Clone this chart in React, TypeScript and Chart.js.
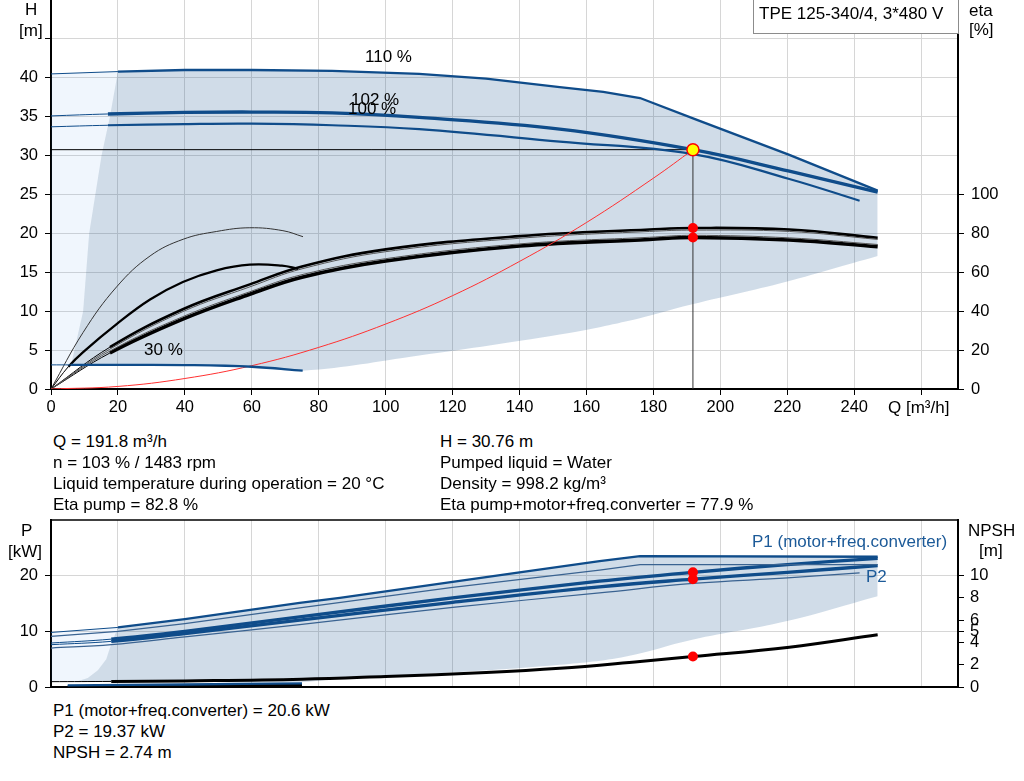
import React, { useEffect, useRef } from "react";
import { Chart, registerables } from "chart.js";
Chart.register(...registerables);

const FONT = 'Arial, "Liberation Sans", Helvetica, sans-serif';
const BLUE = "#0f4c8a";
const THIN_BLUE = "#3a6391";
const GRID = "#d6d6d6";
const FILL_DARK = "rgba(15,76,138,0.195)";
const FILL_LIGHT = "rgba(60,140,230,0.08)";

// ---- ticks ----
const qTicks = [0, 20, 40, 60, 80, 100, 120, 140, 160, 180, 200, 220, 240, 260];
const hTicks = [0, 5, 10, 15, 20, 25, 30, 35, 40, 45];
const etaTicks = [0, 20, 40, 60, 80, 100];
const pTicks = [0, 10, 20];
const npshTicks = [0, 2, 4, 5, 6, 8, 10];

// ---- duty point ----
const dutyQ = 191.8;
const dutyH = 30.76;
const dutyEtaPump = 82.8;
const dutyEtaTotal = 77.9;
const dutyP1 = 20.6;
const dutyP2 = 19.37;
const dutyNpsh = 2.74;

// ---- QH curves ----
const h110Q = [0, 20, 40, 60, 84, 110, 130, 152, 165, 176, 193, 220.6, 247];
const h110H = [40.5, 40.8, 41.0, 41.0, 40.9, 40.5, 39.9, 38.8, 38.2, 37.4, 34.6, 30.1, 25.5];
const h102Q = [0, 17, 40, 60, 84, 110, 152, 191.8, 220.6, 247];
const h102H = [35.1, 35.35, 35.55, 35.6, 35.5, 34.9, 33.4, 30.76, 28.0, 25.3];
const h100Q = [0, 17, 40, 60, 84, 110, 152, 191.8, 220.6, 241.6];
const h100H = [33.7, 33.9, 34.05, 34.1, 33.9, 33.4, 31.8, 30.2, 27.0, 24.2];
const h30Q = [0, 6, 20, 40, 60, 75.2];
const h30H = [3.1, 3.1, 3.1, 3.08, 2.86, 2.35];
// operating-range boundaries (H)
const hLeftQ = [6, 9.6, 11.4, 15.1, 17.6, 20];
const hLeftH = [3.1, 10, 20, 30, 35, 40.8];
const hLowQ = [75.2, 110, 152, 172, 191.6, 219.7, 247];
const hLowH = [2.35, 4.3, 7.0, 8.7, 10.9, 13.8, 17.1];
// system curve
const sysQ = [0, 20, 40, 60, 80, 100, 120, 140, 160, 180, 191.8];
const sysH = [0, 0.33, 1.35, 3.0, 5.35, 8.35, 12.0, 16.4, 21.4, 27.1, 30.76];

// ---- efficiency curves ----
const eta30pQ = [0, 9.6, 19.6, 29.6, 39.5, 49.5, 59.4, 69.3, 75.3];
const eta30p = [0, 29.1, 52.5, 68.4, 77.0, 81.0, 82.9, 81.4, 78.3];
const eta30tQ = [0, 5.2, 9.6, 19.7, 29.6, 39.4, 49.5, 59.4, 69, 73.8];
const eta30t = [0, 11.5, 19, 33.5, 46, 55, 61, 63.9, 63.4, 61.8];
const etaBundleQ = [0, 17.6, 39.4, 59.4, 75, 100, 140, 178.8, 191.8, 220.6, 247];
const etaPumpHi = [0, 21.5, 41, 53.8, 63, 71.8, 78.6, 82, 82.8, 82, 77.8];
const etaPumpLo = [0, 20.5, 39.8, 52.5, 61.8, 70.6, 77.5, 81.0, 81.7, 81.0, 76.9];
const etaTotHi = [0, 19.5, 37.2, 50, 58.8, 67, 74.6, 78, 79, 77.7, 74.3];
const etaTotLo = [0, 18.5, 35.9, 48.7, 57.5, 65.8, 73.5, 76.9, 77.9, 76.6, 73.2];

// ---- power curves ----
const p1_110Q = [0, 20, 40, 74.3, 86.3, 120, 140, 163.9, 176, 247];
const p1_110 = [9.8, 10.7, 12.2, 15.1, 16.0, 18.9, 20.6, 22.6, 23.5, 23.4];
const p2_110Q = [0, 20, 40, 74.3, 120, 163.9, 176, 247];
const p2_110 = [9.1, 10.0, 11.4, 14.2, 17.9, 21.0, 22.0, 22.0];
const p1_102Q = [0, 18, 40, 74.3, 120, 163.9, 191.8, 220, 247];
const p1_102 = [7.9, 8.6, 10.0, 12.6, 16.0, 19.0, 20.6, 22.0, 23.1];
const p2_102 = [7.6, 8.2, 9.6, 12.0, 15.2, 18.0, 19.37, 20.6, 21.8];
const p2_100Q = [0, 18, 40, 74.3, 120, 163.9, 191.8, 220, 241.6];
const p2_100 = [7.0, 7.6, 9.0, 11.2, 14.3, 16.9, 18.6, 19.6, 20.5];
const p30Q = [5, 40, 75];
const p30 = [0.3, 0.45, 0.65];
const pLeftQ = [7.7, 11, 14, 16.5, 17.6, 18.5, 20];
const pLeft = [1.0, 1.6, 3.0, 5.0, 7.0, 8.5, 10.7];
const pLowQ = [7.7, 40, 75, 88, 122, 152, 171.8, 191.6, 219.6, 247];
const pLow = [1.0, 0.9, 0.9, 1.6, 2.7, 4.0, 5.5, 8.5, 11.8, 16.3];
const pLightLowQ = [0];
const pLightLow = [1.0];

// ---- NPSH ----
const npshQ = [0, 18, 40, 75, 100, 130, 152, 176, 191.8, 220.6, 247];
const npsh = [0.48, 0.5, 0.55, 0.7, 0.95, 1.3, 1.68, 2.3, 2.74, 3.58, 4.7];
const npsh30Q = [5, 40, 75];
const npsh30 = [0.03, 0.08, 0.2];

type Pt = { x: number; y: number };
const zip = (q: number[], v: number[]): Pt[] => q.map((x, i) => ({ x, y: v[i] }));

const thinFirst = (w: number) => ({
  borderWidth: (ctx: any) => (ctx.p0DataIndex === 0 ? 1 : w),
});

const STRAIGHT = { cubicInterpolationMode: "default", tension: 0 };

function line(data: Pt[], color: string, width: number, extra: any = {}) {
  return {
    type: "line",
    data,
    borderColor: color,
    backgroundColor: color,
    borderWidth: width,
    pointRadius: 0,
    fill: false,
    cubicInterpolationMode: "default",
    tension: 0.4,
    order: 5,
    ...extra,
  };
}

function marker(pt: Pt, bg: string, border: string, r: number, axis?: string) {
  const d: any = {
    type: "line",
    data: [pt],
    showLine: false,
    pointRadius: r,
    pointBackgroundColor: bg,
    pointBorderColor: border,
    pointBorderWidth: border === bg ? 0 : 1.5,
    order: 0,
  };
  if (axis) d.yAxisID = axis;
  return d;
}

const fixedTicks = (vals: number[]) => (s: any) => {
  s.ticks = vals.map((v) => ({ value: v }));
};

const tickFont = { family: FONT, size: 16.5 };
const CLEAR = "rgba(0,0,0,0)";

function topConfig(): any {
  const ds: any[] = [];
  const add = (d: any) => {
    ds.push(d);
    return ds.length - 1;
  };
  // light region
  const lightLow = add(
    line([...zip(h30Q, h30H).slice(0, 1), ...zip(hLeftQ, hLeftH)], CLEAR, 0, { order: 30, ...STRAIGHT })
  );
  add(
    line(zip(h110Q, h110H).slice(0, 2), CLEAR, 0, {
      fill: lightLow,
      backgroundColor: FILL_LIGHT,
      order: 30,
      ...STRAIGHT,
    })
  );
  // dark region
  const darkLow = add(
    line([...zip(h30Q, h30H).slice(1), ...zip(hLowQ, hLowH).slice(1)], CLEAR, 0, { order: 20 })
  );
  add(
    line([...zip(hLeftQ, hLeftH), ...zip(h110Q, h110H).slice(2)], CLEAR, 0, {
      fill: darkLow,
      backgroundColor: FILL_DARK,
      order: 20,
      ...STRAIGHT,
    })
  );
  // QH curves
  add(line(zip(h110Q, h110H), BLUE, 2.3, { segment: thinFirst(2.3), ...STRAIGHT }));
  add(line(zip(h102Q, h102H), BLUE, 3.3, { segment: thinFirst(3.3) }));
  add(line(zip(h100Q, h100H), BLUE, 2.2, { segment: thinFirst(2.2) }));
  add(line(zip(h30Q, h30H), BLUE, 2.3, { segment: thinFirst(2.3) }));
  // system curve and duty lines
  add(line(zip(sysQ, sysH), "#ff3030", 1));
  add(line([{ x: 0, y: dutyH }, { x: dutyQ, y: dutyH }], "#000", 1, STRAIGHT));
  add(line([{ x: dutyQ, y: 0 }, { x: dutyQ, y: dutyH }], "#333", 1, STRAIGHT));
  // efficiency curves
  add(line(zip(eta30pQ, eta30p), "#333", 1, { yAxisID: "eta" }));
  add(line(zip(eta30tQ, eta30t), "#000", 2.3, { yAxisID: "eta", segment: thinFirst(2.3) }));
  add(line(zip(etaBundleQ, etaPumpLo), "#555", 1, { yAxisID: "eta" }));
  add(line(zip(etaBundleQ, etaTotHi), "#555", 1, { yAxisID: "eta" }));
  add(line(zip(etaBundleQ, etaPumpHi), "#000", 2.6, { yAxisID: "eta", segment: thinFirst(2.6) }));
  add(line(zip(etaBundleQ, etaTotLo), "#000", 3.6, { yAxisID: "eta", segment: thinFirst(3.6) }));
  // markers
  add(marker({ x: dutyQ, y: dutyEtaPump }, "#ff0000", "#ff0000", 5, "eta"));
  add(marker({ x: dutyQ, y: dutyEtaTotal }, "#ff0000", "#ff0000", 5, "eta"));
  add(marker({ x: dutyQ, y: dutyH }, "#ffff00", "#ff0000", 6));

  return {
    type: "line",
    data: { datasets: ds },
    options: {
      animation: false,
      responsive: false,
      maintainAspectRatio: false,
      events: [],
      layout: { padding: { top: 15 } },
      plugins: { legend: { display: false }, tooltip: { enabled: false } },
      scales: {
        x: {
          type: "linear",
          min: 0,
          max: 271,
          afterBuildTicks: fixedTicks(qTicks),
          afterFit: (s: any) => {
            s.height = 36;
            s.paddingLeft = 0;
            s.paddingRight = 0;
          },
          ticks: {
            autoSkip: false,
            maxRotation: 0,
            padding: 3,
            color: "#000",
            font: tickFont,
            callback: (v: any) => (v <= 240 ? String(v) : ""),
          },
          grid: { color: GRID, tickColor: "#000", tickLength: 6 },
          border: { color: "#000", width: 2 },
        },
        y: {
          type: "linear",
          position: "left",
          min: 0,
          max: 50,
          afterBuildTicks: fixedTicks(hTicks),
          afterFit: (s: any) => {
            s.width = 51;
            s.paddingTop = 0;
            s.paddingBottom = 0;
          },
          ticks: {
            padding: 7,
            color: "#000",
            font: tickFont,
            callback: (v: any) => (v <= 40 ? String(v) : ""),
          },
          grid: { color: GRID, tickColor: "#000", tickLength: 6 },
          border: { color: "#000", width: 2 },
        },
        eta: {
          type: "linear",
          position: "right",
          min: 0,
          max: 200,
          afterBuildTicks: fixedTicks(etaTicks),
          afterFit: (s: any) => {
            s.width = 66;
            s.paddingTop = 0;
            s.paddingBottom = 0;
          },
          ticks: { padding: 7, color: "#000", font: tickFont },
          grid: { drawOnChartArea: false, tickColor: "#000", tickLength: 6 },
          border: { color: "#000", width: 2 },
        },
      },
    },
  };
}

const topBorder = {
  id: "topBorder",
  afterDatasetsDraw(chart: any) {
    const { ctx, chartArea } = chart;
    ctx.save();
    ctx.strokeStyle = "#000";
    ctx.lineWidth = 1.5;
    ctx.beginPath();
    ctx.moveTo(chartArea.left, chartArea.top);
    ctx.lineTo(chartArea.right, chartArea.top);
    ctx.stroke();
    ctx.restore();
  },
};

function bottomConfig(): any {
  const ds: any[] = [];
  const add = (d: any) => {
    ds.push(d);
    return ds.length - 1;
  };
  const lightLow = add(
    line([...zip(pLightLowQ, pLightLow), ...zip(pLeftQ, pLeft)], CLEAR, 0, { order: 30, ...STRAIGHT })
  );
  add(
    line(zip(p1_110Q, p1_110).slice(0, 2), CLEAR, 0, {
      fill: lightLow,
      backgroundColor: FILL_LIGHT,
      order: 30,
      ...STRAIGHT,
    })
  );
  const darkLow = add(line(zip(pLowQ, pLow), CLEAR, 0, { order: 20 }));
  add(
    line([...zip(pLeftQ, pLeft), ...zip(p1_110Q, p1_110).slice(2)], CLEAR, 0, {
      fill: darkLow,
      backgroundColor: FILL_DARK,
      order: 20,
      ...STRAIGHT,
    })
  );
  add(line(zip(p2_110Q, p2_110), THIN_BLUE, 1.2, STRAIGHT));
  add(line(zip(p2_100Q, p2_100), THIN_BLUE, 1.2));
  add(line(zip(p1_110Q, p1_110), BLUE, 2.3, { segment: thinFirst(2.3), ...STRAIGHT }));
  add(line(zip(p1_102Q, p1_102), BLUE, 3.3, { segment: thinFirst(3.3) }));
  add(line(zip(p1_102Q, p2_102), BLUE, 3.3, { segment: thinFirst(3.3) }));
  add(line(zip(p30Q, p30), BLUE, 2.3));
  add(line(zip(npsh30Q, npsh30), "#000", 3, { yAxisID: "npsh" }));
  add(line(zip(npshQ, npsh), "#000", 3, { yAxisID: "npsh", segment: thinFirst(3) }));
  add(marker({ x: dutyQ, y: dutyP1 }, "#ff0000", "#ff0000", 5));
  add(marker({ x: dutyQ, y: dutyP2 }, "#ff0000", "#ff0000", 5));
  add(marker({ x: dutyQ, y: dutyNpsh }, "#ff0000", "#ff0000", 5, "npsh"));

  return {
    type: "line",
    data: { datasets: ds },
    plugins: [topBorder],
    options: {
      animation: false,
      responsive: false,
      maintainAspectRatio: false,
      events: [],
      layout: { padding: { top: 15 } },
      plugins: { legend: { display: false }, tooltip: { enabled: false } },
      scales: {
        x: {
          type: "linear",
          min: 0,
          max: 271,
          afterBuildTicks: fixedTicks(qTicks),
          afterFit: (s: any) => {
            s.height = 13;
            s.paddingLeft = 0;
            s.paddingRight = 0;
          },
          ticks: { display: false },
          grid: { color: GRID, drawTicks: false },
          border: { color: "#000", width: 2 },
        },
        y: {
          type: "linear",
          position: "left",
          min: 0,
          max: 30,
          afterBuildTicks: fixedTicks(pTicks),
          afterFit: (s: any) => {
            s.width = 51;
            s.paddingTop = 0;
            s.paddingBottom = 0;
          },
          ticks: { padding: 7, color: "#000", font: tickFont },
          grid: { color: GRID, tickColor: "#000", tickLength: 6 },
          border: { color: "#000", width: 2 },
        },
        npsh: {
          type: "linear",
          position: "right",
          min: 0,
          max: 15,
          afterBuildTicks: fixedTicks(npshTicks),
          afterFit: (s: any) => {
            s.width = 66;
            s.paddingTop = 0;
            s.paddingBottom = 0;
          },
          ticks: { padding: 6, color: "#000", font: tickFont },
          grid: { drawOnChartArea: false, tickColor: "#000", tickLength: 6 },
          border: { color: "#000", width: 2 },
        },
      },
    },
  };
}

function T(props: { x: number; cy: number; children: any; color?: string }) {
  return (
    <div
      style={{
        position: "absolute",
        left: props.x,
        top: props.cy - 9.5,
        fontSize: 17,
        lineHeight: "19px",
        whiteSpace: "nowrap",
        color: props.color || "#000",
      }}
    >
      {props.children}
    </div>
  );
}

const leftInfo = [
  "Q = 191.8 m³/h",
  "n = 103 % / 1483 rpm",
  "Liquid temperature during operation = 20 °C",
  "Eta pump = 82.8 %",
];
const rightInfo = [
  "H = 30.76 m",
  "Pumped liquid = Water",
  "Density = 998.2 kg/m³",
  "Eta pump+motor+freq.converter = 77.9 %",
];
const bottomInfo = ["P1 (motor+freq.converter) = 20.6 kW", "P2 = 19.37 kW", "NPSH = 2.74 m"];

export default function App() {
  const topRef = useRef<HTMLCanvasElement>(null);
  const botRef = useRef<HTMLCanvasElement>(null);
  useEffect(() => {
    Chart.defaults.font.family = FONT;
    const c1 = new Chart(topRef.current as HTMLCanvasElement, topConfig());
    const c2 = new Chart(botRef.current as HTMLCanvasElement, bottomConfig());
    return () => {
      c1.destroy();
      c2.destroy();
    };
  }, []);
  return (
    <div
      style={{
        position: "absolute",
        left: 0,
        top: 0,
        width: 1024,
        height: 781,
        background: "#fff",
        fontFamily: FONT,
        overflow: "hidden",
      }}
    >
      <canvas
        ref={topRef}
        width={1024}
        height={440}
        style={{ position: "absolute", left: 0, top: -15, width: 1024, height: 440 }}
      />
      <canvas
        ref={botRef}
        width={1024}
        height={195}
        style={{ position: "absolute", left: 0, top: 505, width: 1024, height: 195 }}
      />
      {/* top chart axis titles */}
      <T x={25} cy={9.5}>H</T>
      <T x={19} cy={30}>[m]</T>
      <T x={969} cy={10}>eta</T>
      <T x={969} cy={29.5}>[%]</T>
      <T x={888} cy={407}>Q [m³/h]</T>
      <T x={365} cy={56.5}>110 %</T>
      <T x={351} cy={99.5}>102 %</T>
      <T x={348} cy={108.5}>100 %</T>
      <T x={144} cy={349.5}>30 %</T>
      <div
        style={{
          position: "absolute",
          left: 753,
          top: -1,
          width: 204,
          height: 33,
          border: "1px solid #8c8c8c",
          background: "#fff",
        }}
      />
      <T x={759} cy={13.5}>TPE 125-340/4, 3*480 V</T>
      {/* info block */}
      {leftInfo.map((s, i) => (
        <T key={"l" + i} x={53} cy={441 + i * 21.1}>
          {s}
        </T>
      ))}
      {rightInfo.map((s, i) => (
        <T key={"r" + i} x={440} cy={441 + i * 21.1}>
          {s}
        </T>
      ))}
      {/* bottom chart axis titles */}
      <T x={21} cy={530}>P</T>
      <T x={8} cy={551}>[kW]</T>
      <T x={968} cy={530}>NPSH</T>
      <T x={979} cy={550}>[m]</T>
      <T x={752} cy={541.5} color="#1c5a98">
        P1 (motor+freq.converter)
      </T>
      <T x={866} cy={576} color="#1c5a98">
        P2
      </T>
      {bottomInfo.map((s, i) => (
        <T key={"b" + i} x={53} cy={710.5 + i * 21}>
          {s}
        </T>
      ))}
    </div>
  );
}
